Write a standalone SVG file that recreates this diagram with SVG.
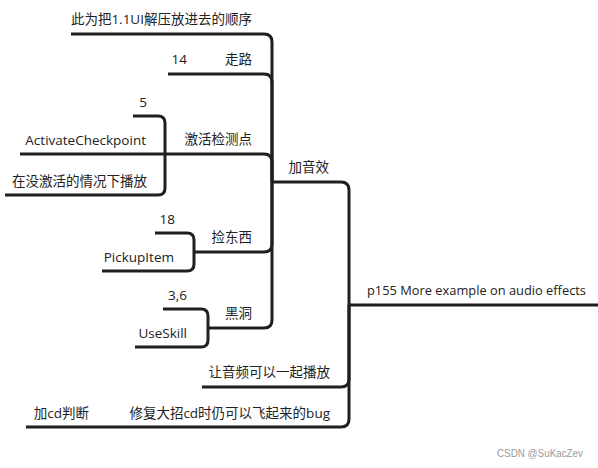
<svg xmlns="http://www.w3.org/2000/svg" width="598" height="468" viewBox="0 0 598 468">
<style>
.c{fill:none;stroke:#1f1f1f;stroke-width:3;stroke-linecap:butt}
text{font-family:"Open Sans","Noto Sans CJK SC",sans-serif;font-size:13.5px;fill:#222}
.r{text-anchor:end}
.wm{font-family:"Liberation Sans",sans-serif;font-size:11.5px;fill:#9a9a9a}
</style>
<rect width="598" height="468" fill="#fff"/>
<g id="connectors">
<path class="c" d="M349,305 H598"/>
<path class="c" d="M349,305 V190 Q349,182 341,182 H272"/>
<path class="c" d="M349,305 V379 Q349,387 341,387 H202"/>
<path class="c" d="M349,305 V419 Q349,427 341,427 H26"/>
<path class="c" d="M272,182 V42 Q272,34 264,34 H71"/>
<path class="c" d="M272,182 V82 Q272,74 264,74 H168"/>
<path class="c" d="M272,182 V162 Q272,154 264,154 H165"/>
<path class="c" d="M272,182 V244 Q272,252 264,252 H194"/>
<path class="c" d="M272,182 V320 Q272,328 264,328 H208"/>
<path class="c" d="M165,154 V123 Q165,116 158,116 H133"/>
<path class="c" d="M165,154 H20"/>
<path class="c" d="M165,154 V188 Q165,195 158,195 H5"/>
<path class="c" d="M194,252 V240 Q194,233 187,233 H155"/>
<path class="c" d="M194,252 V264 Q194,271 187,271 H102"/>
<path class="c" d="M208,328 V316 Q208,309 201,309 H163"/>
<path class="c" d="M208,328 V340 Q208,347 201,347 H135"/>
</g>
<g id="root"><text x="367" y="295" textLength="219" lengthAdjust="spacingAndGlyphs">p155 More example on audio effects</text></g>
<g id="n-jiayinxiao"><text class="r" x="329" y="172">加音效</text></g>
<g id="n-order"><text class="r" x="252" y="24">此为把1.1UI解压放进去的顺序</text></g>
<g id="n-walk"><text class="r" x="252" y="64">走路</text></g>
<g id="n-walk-14"><text class="r" x="187" y="64">14</text></g>
<g id="n-checkpoint"><text class="r" x="252" y="144">激活检测点</text></g>
<g id="n-cp-5"><text class="r" x="147" y="107">5</text></g>
<g id="n-cp-name"><text class="r" x="146" y="145">ActivateCheckpoint</text></g>
<g id="n-cp-note"><text class="r" x="147" y="186">在没激活的情况下播放</text></g>
<g id="n-pickup"><text class="r" x="252" y="242">捡东西</text></g>
<g id="n-pk-18"><text class="r" x="175" y="224">18</text></g>
<g id="n-pk-name"><text class="r" x="174" y="262">PickupItem</text></g>
<g id="n-blackhole"><text class="r" x="252" y="318">黑洞</text></g>
<g id="n-bh-36"><text class="r" x="187" y="300">3,6</text></g>
<g id="n-bh-name"><text class="r" x="187" y="338">UseSkill</text></g>
<g id="n-together"><text class="r" x="330" y="377">让音频可以一起播放</text></g>
<g id="n-bugfix"><text class="r" x="330" y="418">修复大招cd时仍可以飞起来的bug</text></g>
<g id="n-cdcheck"><text class="r" x="89" y="418">加cd判断</text></g>
<text class="wm" x="497" y="457" textLength="86" lengthAdjust="spacingAndGlyphs">CSDN @SuKacZev</text>
</svg>
